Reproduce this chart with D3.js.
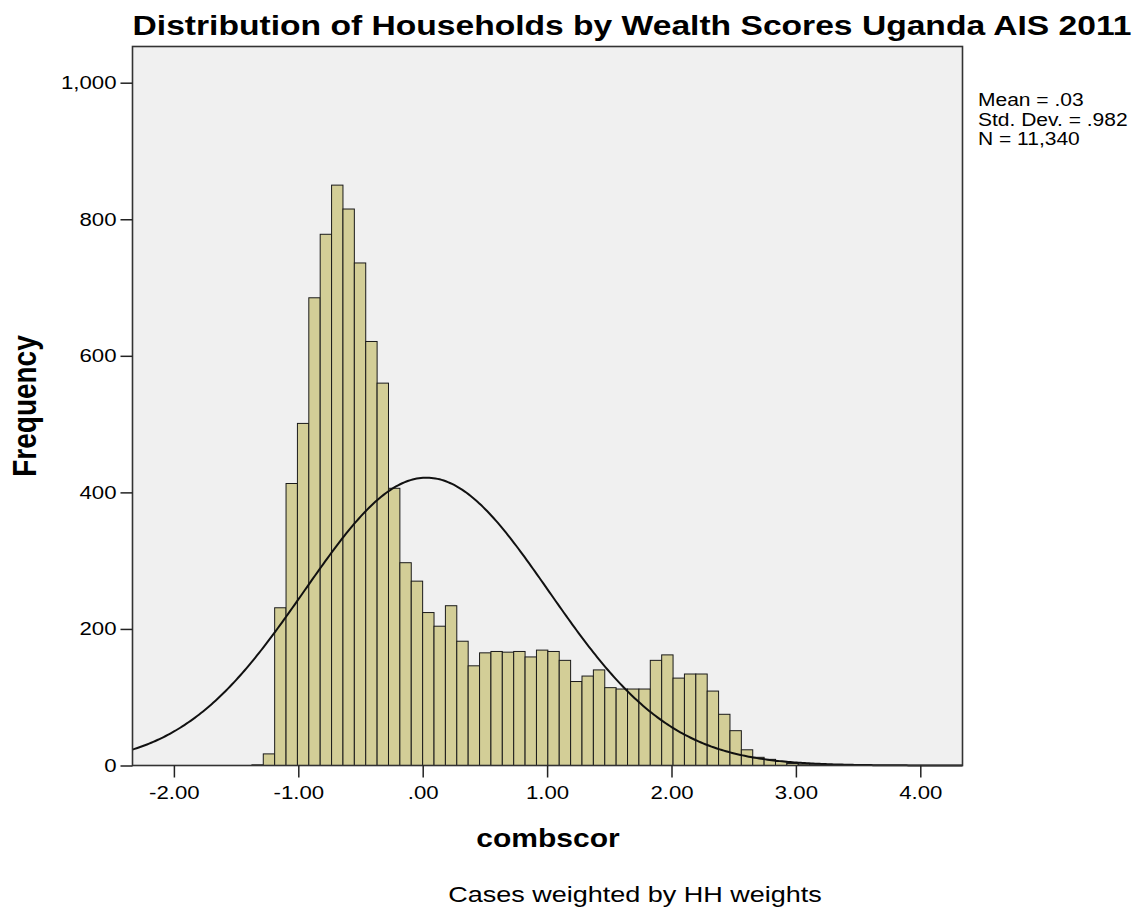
<!DOCTYPE html>
<html><head><meta charset="utf-8">
<script src="https://cdn.jsdelivr.net/npm/d3@7/dist/d3.min.js"></script>
<style>
html,body{margin:0;padding:0;background:#fff;}
text{font-family:"Liberation Sans",Arial,sans-serif;fill:#000;}
</style></head>
<body>
<svg id="chart" width="1142" height="912"></svg>
<script>
// ---- data ----
const binStart = -1.373;      // left edge of first bin
const binWidth = 0.0915;
const counts = [1, 17, 231, 413, 501, 685, 778, 850, 815, 736, 621, 560, 406, 297, 270,
  224, 204, 234, 182, 146, 165, 167, 166, 167, 159, 169, 167, 154,
  123, 131, 140, 114, 112, 112, 112, 154, 162, 128, 134, 134, 109, 75, 51,
  23, 12, 9, 6, 3, 2, 1];
const statsLines = ["Mean = .03", "Std. Dev. = .982", "N = 11,340"];
const meanVal = 0.03, sdVal = 0.982, nVal = 11340;
const xTickValues = [-2, -1, 0, 1, 2, 3, 4];
const yTickValues = [0, 200, 400, 600, 800, 1000];
const titleText = "Distribution of Households by Wealth Scores Uganda AIS 2011";
const xLabel = "combscor", yLabel = "Frequency", footText = "Cases weighted by HH weights";

// ---- layout ----
const L = 132.5, R = 962.5, T = 46.5, B = 765.5;
const svg = d3.select("#chart");
const x = d3.scaleLinear().domain([0, 1]).range([422.7, 547.1]);
const y = d3.scaleLinear().domain([0, 1000]).range([B, 82.7]);
const xMin = x.invert(L), xMax = x.invert(R);
const SX = 1.2;
function stretch(sel, k) {
  sel.each(function () {
    const len = this.getComputedTextLength();
    this.setAttribute("textLength", len * k);
    this.setAttribute("lengthAdjust", "spacingAndGlyphs");
  });
}

// plot background
svg.append("rect").attr("x", L).attr("y", T).attr("width", R - L).attr("height", B - T)
  .attr("fill", "#f0f0f0");

// bars
const bins = counts.map((c, i) => ({ x0: binStart + i * binWidth, x1: binStart + (i + 1) * binWidth, c }));
svg.append("g").selectAll("rect").data(bins).join("rect")
  .attr("x", d => x(d.x0)).attr("width", d => x(d.x1) - x(d.x0))
  .attr("y", d => y(d.c)).attr("height", d => y(0) - y(d.c))
  .attr("fill", "#d3ce97").attr("stroke", "#1a1a1a").attr("stroke-width", 1);

// normal curve
const pts = d3.range(0, 401).map(i => {
  const v = xMin + (xMax - xMin) * i / 400;
  const z = (v - meanVal) / sdVal;
  return [v, nVal * binWidth * Math.exp(-0.5 * z * z) / (sdVal * Math.sqrt(2 * Math.PI))];
});
svg.append("path").datum(pts)
  .attr("d", d3.line().x(d => x(d[0])).y(d => y(d[1])))
  .attr("fill", "none").attr("stroke", "#111").attr("stroke-width", 2);

// frame
svg.append("rect").attr("x", L).attr("y", T).attr("width", R - L).attr("height", B - T)
  .attr("fill", "none").attr("stroke", "#333").attr("stroke-width", 1.6);

// y axis
const yAxis = svg.append("g").attr("transform", `translate(${L},0)`)
  .call(d3.axisLeft(y).tickValues(yTickValues).tickFormat(d3.format(",")).tickSize(12).tickPadding(4));
yAxis.select(".domain").remove();
yAxis.selectAll("line").attr("stroke", "#222").attr("stroke-width", 1.5);
yAxis.selectAll("text").attr("font-size", 18.5).attr("font-family", "Liberation Sans, Arial, sans-serif").attr("fill", "#111");
stretch(yAxis.selectAll("text"), SX);

// x axis
const fmtX = v => { const s = d3.format(".2f")(Math.abs(v)); const t = s === "0.00" ? ".00" : s; return v < 0 ? "-" + t : t; };
const xAxis = svg.append("g").attr("transform", `translate(0,${B})`)
  .call(d3.axisBottom(x).tickValues(xTickValues).tickFormat(fmtX).tickSize(12).tickPadding(8));
xAxis.select(".domain").remove();
xAxis.selectAll("line").attr("stroke", "#222").attr("stroke-width", 1.5);
xAxis.selectAll("text").attr("font-size", 18.5).attr("font-family", "Liberation Sans, Arial, sans-serif").attr("fill", "#111");
stretch(xAxis.selectAll("text"), SX);

// title
const t = svg.append("text").attr("x", 632).attr("y", 35).attr("text-anchor", "middle")
  .attr("font-size", 28).attr("font-weight", "bold").text(titleText);
stretch(t, SX);

// x label
const xl = svg.append("text").attr("x", 548).attr("y", 847).attr("text-anchor", "middle")
  .attr("font-size", 25).attr("font-weight", "bold").text(xLabel);
stretch(xl, SX);

// footnote
const ft = svg.append("text").attr("x", 635).attr("y", 902).attr("text-anchor", "middle")
  .attr("font-size", 22.5).attr("fill", "#222").text(footText);
stretch(ft, SX);

// y label (rotated, stretched horizontally in screen space)
svg.append("text").attr("transform", `translate(36,406) scale(${SX},1) rotate(-90)`)
  .attr("text-anchor", "middle").attr("font-size", 28).attr("font-weight", "bold").text(yLabel);

// stats
const st = svg.append("g").selectAll("text").data(statsLines).join("text")
  .attr("x", 978).attr("y", (d, i) => 106 + i * 19.5)
  .attr("font-size", 17.5).attr("fill", "#111").text(d => d);
stretch(st, SX);
</script>
</body></html>
